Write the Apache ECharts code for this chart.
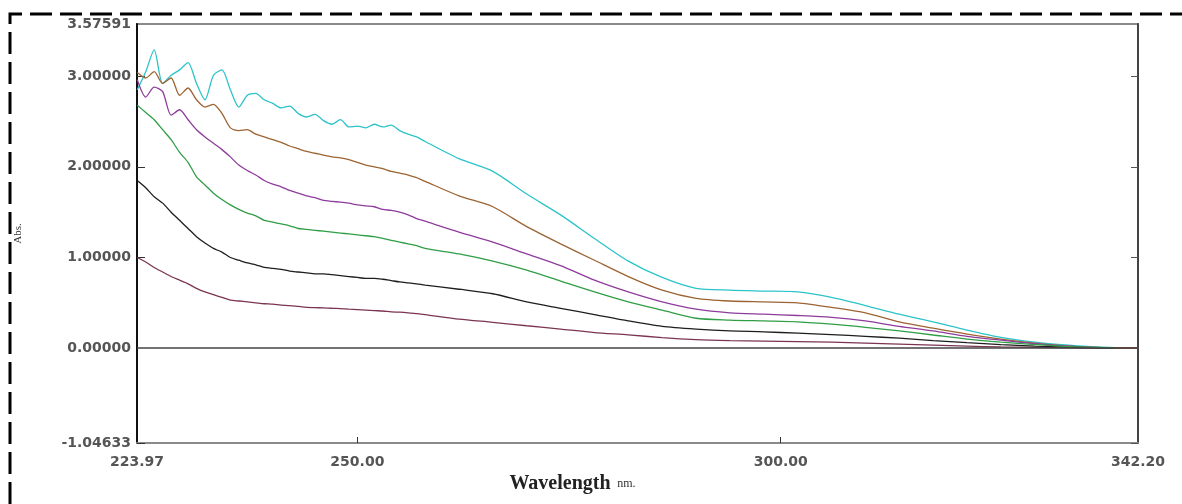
<!DOCTYPE html>
<html>
<head>
<meta charset="utf-8">
<script src="https://cdn.jsdelivr.net/npm/echarts@6/dist/echarts.min.js"></script>
<style>
  html, body { margin: 0; padding: 0; background: #fff; }
  #chart { width: 1182px; height: 504px; }
</style>
</head>
<body>
<div id="chart"></div>
<script>
// wavelength grid (nm): 1 nm steps over the noisy part, 4 nm after
var wavelengths = [224, 225, 226, 227, 228, 229, 230, 231, 232, 233, 234, 235, 236, 237, 238, 239, 240,
  241, 242, 243, 244, 245, 246, 247, 248, 249, 250, 251, 252, 253, 254, 255, 256, 257, 258,
  262, 266, 270, 274, 278, 282, 286, 290, 294, 298, 302, 306, 310, 314, 318, 322, 326, 330, 334, 338, 342.2];

// absorbance, one array per trace
var cyanAbs = [2.85, 3.05, 3.29, 2.92, 3.01, 3.07, 3.15, 2.92, 2.74, 3.01, 3.07, 2.85, 2.66, 2.79, 2.81, 2.74, 2.70,
  2.65, 2.67, 2.59, 2.55, 2.58, 2.51, 2.47, 2.52, 2.44, 2.45, 2.43, 2.47, 2.44, 2.46, 2.40, 2.36, 2.33, 2.28,
  2.09, 1.95, 1.70, 1.47, 1.21, 0.96, 0.78, 0.66, 0.64, 0.63, 0.62, 0.56, 0.47, 0.375, 0.29, 0.20, 0.12, 0.066, 0.033, 0.01, 0];
var brownAbs = [3.04, 2.98, 3.05, 2.92, 2.98, 2.79, 2.87, 2.74, 2.66, 2.69, 2.59, 2.43, 2.40, 2.41, 2.36, 2.33, 2.30,
  2.27, 2.23, 2.20, 2.17, 2.15, 2.13, 2.11, 2.10, 2.08, 2.05, 2.02, 2.00, 1.98, 1.95, 1.93, 1.91, 1.88, 1.84,
  1.68, 1.56, 1.34, 1.15, 0.97, 0.79, 0.64, 0.55, 0.52, 0.51, 0.50, 0.45, 0.39, 0.29, 0.22, 0.155, 0.10, 0.055, 0.022, 0.005, 0];
var purpleAbs = [2.96, 2.77, 2.88, 2.83, 2.57, 2.63, 2.52, 2.41, 2.33, 2.26, 2.19, 2.11, 2.02, 1.96, 1.91, 1.85, 1.81,
  1.78, 1.74, 1.71, 1.68, 1.66, 1.63, 1.62, 1.61, 1.60, 1.58, 1.57, 1.56, 1.53, 1.52, 1.50, 1.47, 1.43, 1.40,
  1.28, 1.17, 1.04, 0.91, 0.75, 0.62, 0.51, 0.43, 0.39, 0.375, 0.36, 0.34, 0.30, 0.24, 0.19, 0.13, 0.088, 0.05, 0.022, 0.005, 0];
var greenAbs = [2.68, 2.60, 2.52, 2.41, 2.30, 2.16, 2.05, 1.89, 1.80, 1.71, 1.64, 1.58, 1.53, 1.49, 1.46, 1.41, 1.39,
  1.37, 1.35, 1.32, 1.31, 1.30, 1.29, 1.28, 1.27, 1.26, 1.25, 1.24, 1.23, 1.21, 1.19, 1.17, 1.15, 1.13, 1.10,
  1.04, 0.96, 0.86, 0.74, 0.62, 0.51, 0.42, 0.33, 0.31, 0.30, 0.29, 0.265, 0.23, 0.19, 0.145, 0.10, 0.066, 0.04, 0.017, 0.005, 0];
var blackAbs = [1.85, 1.77, 1.67, 1.60, 1.50, 1.41, 1.32, 1.23, 1.16, 1.10, 1.06, 1.00, 0.97, 0.94, 0.92, 0.89, 0.88,
  0.87, 0.85, 0.84, 0.83, 0.82, 0.82, 0.81, 0.80, 0.79, 0.78, 0.77, 0.77, 0.76, 0.745, 0.73, 0.72, 0.71, 0.695,
  0.65, 0.60, 0.51, 0.44, 0.37, 0.30, 0.24, 0.21, 0.19, 0.18, 0.165, 0.15, 0.13, 0.11, 0.083, 0.06, 0.04, 0.022, 0.011, 0.003, 0];
var maroonAbs = [1.00, 0.95, 0.89, 0.84, 0.79, 0.75, 0.71, 0.66, 0.62, 0.59, 0.56, 0.53, 0.52, 0.51, 0.50, 0.49, 0.485,
  0.475, 0.47, 0.46, 0.45, 0.447, 0.444, 0.44, 0.436, 0.43, 0.425, 0.42, 0.414, 0.41, 0.40, 0.397, 0.39, 0.38, 0.37,
  0.32, 0.285, 0.247, 0.21, 0.172, 0.147, 0.116, 0.094, 0.083, 0.077, 0.072, 0.066, 0.055, 0.044, 0.033, 0.022, 0.013, 0.008, 0.003, 0, 0];
// short red tail visible at the far right
var redWl = [339.5, 342.2];
var redAbs = [0, 0];

var xMin = 223.97, xMax = 342.20;
var yMin = -1.04633, yMax = 3.57591;
var xTicks = [223.97, 250, 300, 342.2];
var yTicks = [-1.04633, 0, 1, 2, 3, 3.57591];

function pairs(xs, ys) {
  return xs.map(function (w, i) { return [w, ys[i]]; });
}

function lineSeries(name, xs, ys, color) {
  return {
    name: name,
    type: 'line',
    data: pairs(xs, ys),
    showSymbol: false,
    smooth: 0.25,
    lineStyle: { color: color, width: 1.3 },
    itemStyle: { color: color },
    z: 3
  };
}

var labelFont = { fontFamily: 'DejaVu Sans', fontWeight: 'bold', fontSize: 14, color: '#555' };

var myChart = echarts.init(document.getElementById('chart'));
var option = {
  animation: false,
  backgroundColor: '#fff',
  grid: { left: 137, right: 44, top: 24, bottom: 61, show: true, borderColor: '#8a8a8a', borderWidth: 2 },
  graphic: [{
    type: 'polyline',
    shape: { points: [[10, 504], [10, 14], [1182, 14]] },
    style: { stroke: '#000', lineWidth: 3, lineDash: [22, 8], fill: null },
    silent: true
  }],
  xAxis: {
    type: 'value',
    min: xMin,
    max: xMax,
    name: '{b|Wavelength}  {s|nm.}',
    nameLocation: 'middle',
    nameGap: 29,
    nameTextStyle: {
      padding: [0, 130, 0, 0],
      rich: {
        b: { fontFamily: 'Liberation Serif', fontWeight: 'bold', fontSize: 20, color: '#222' },
        s: { fontFamily: 'Liberation Serif', fontSize: 12, color: '#333' }
      }
    },
    splitLine: { show: false },
    axisLine: { onZero: false, lineStyle: { color: '#8a8a8a', width: 2 } },
    axisTick: { inside: true, length: 6, customValues: [250, 300], lineStyle: { color: '#333' } },
    axisLabel: Object.assign({
      customValues: xTicks,
      margin: 12,
      formatter: function (v) { return v.toFixed(2); }
    }, labelFont)
  },
  yAxis: [{
    type: 'value',
    min: yMin,
    max: yMax,
    name: 'Abs.',
    nameLocation: 'middle',
    nameGap: 113,
    nameTextStyle: { fontFamily: 'Liberation Serif', fontSize: 11, color: '#333' },
    splitLine: { show: false },
    axisLine: { show: true, onZero: false, lineStyle: { color: '#111', width: 2 } },
    axisTick: { inside: true, length: 8, customValues: [-1.04633, 1, 2, 3], lineStyle: { color: '#333' } },
    axisLabel: Object.assign({
      customValues: yTicks,
      margin: 6,
      formatter: function (v) { return v.toFixed(5); }
    }, labelFont)
  }, {
    type: 'value',
    position: 'right',
    min: yMin,
    max: yMax,
    splitLine: { show: false },
    axisLine: { show: true, onZero: false, lineStyle: { color: '#444', width: 2 } },
    axisTick: { inside: true, length: 7, customValues: [-1.04633, 1, 2, 3], lineStyle: { color: '#555' } },
    axisLabel: { show: false }
  }],
  series: [
    lineSeries('cyan', wavelengths, cyanAbs, '#2cc3c9'),
    lineSeries('brown', wavelengths, brownAbs, '#9c6433'),
    lineSeries('purple', wavelengths, purpleAbs, '#8e3c9c'),
    lineSeries('maroon', wavelengths, maroonAbs, '#7b3552'),
    lineSeries('black', wavelengths, blackAbs, '#1e1e1e'),
    lineSeries('green', wavelengths, greenAbs, '#2f9e46'),
    Object.assign(lineSeries('red', redWl, redAbs, '#e0302c'), {
      z: 4,
      markLine: {
        silent: true,
        symbol: 'none',
        label: { show: false },
        lineStyle: { color: '#444', width: 1.5, type: 'solid' },
        data: [{ yAxis: 0 }]
      }
    })
  ]
};
myChart.setOption(option);
</script>
</body>
</html>
